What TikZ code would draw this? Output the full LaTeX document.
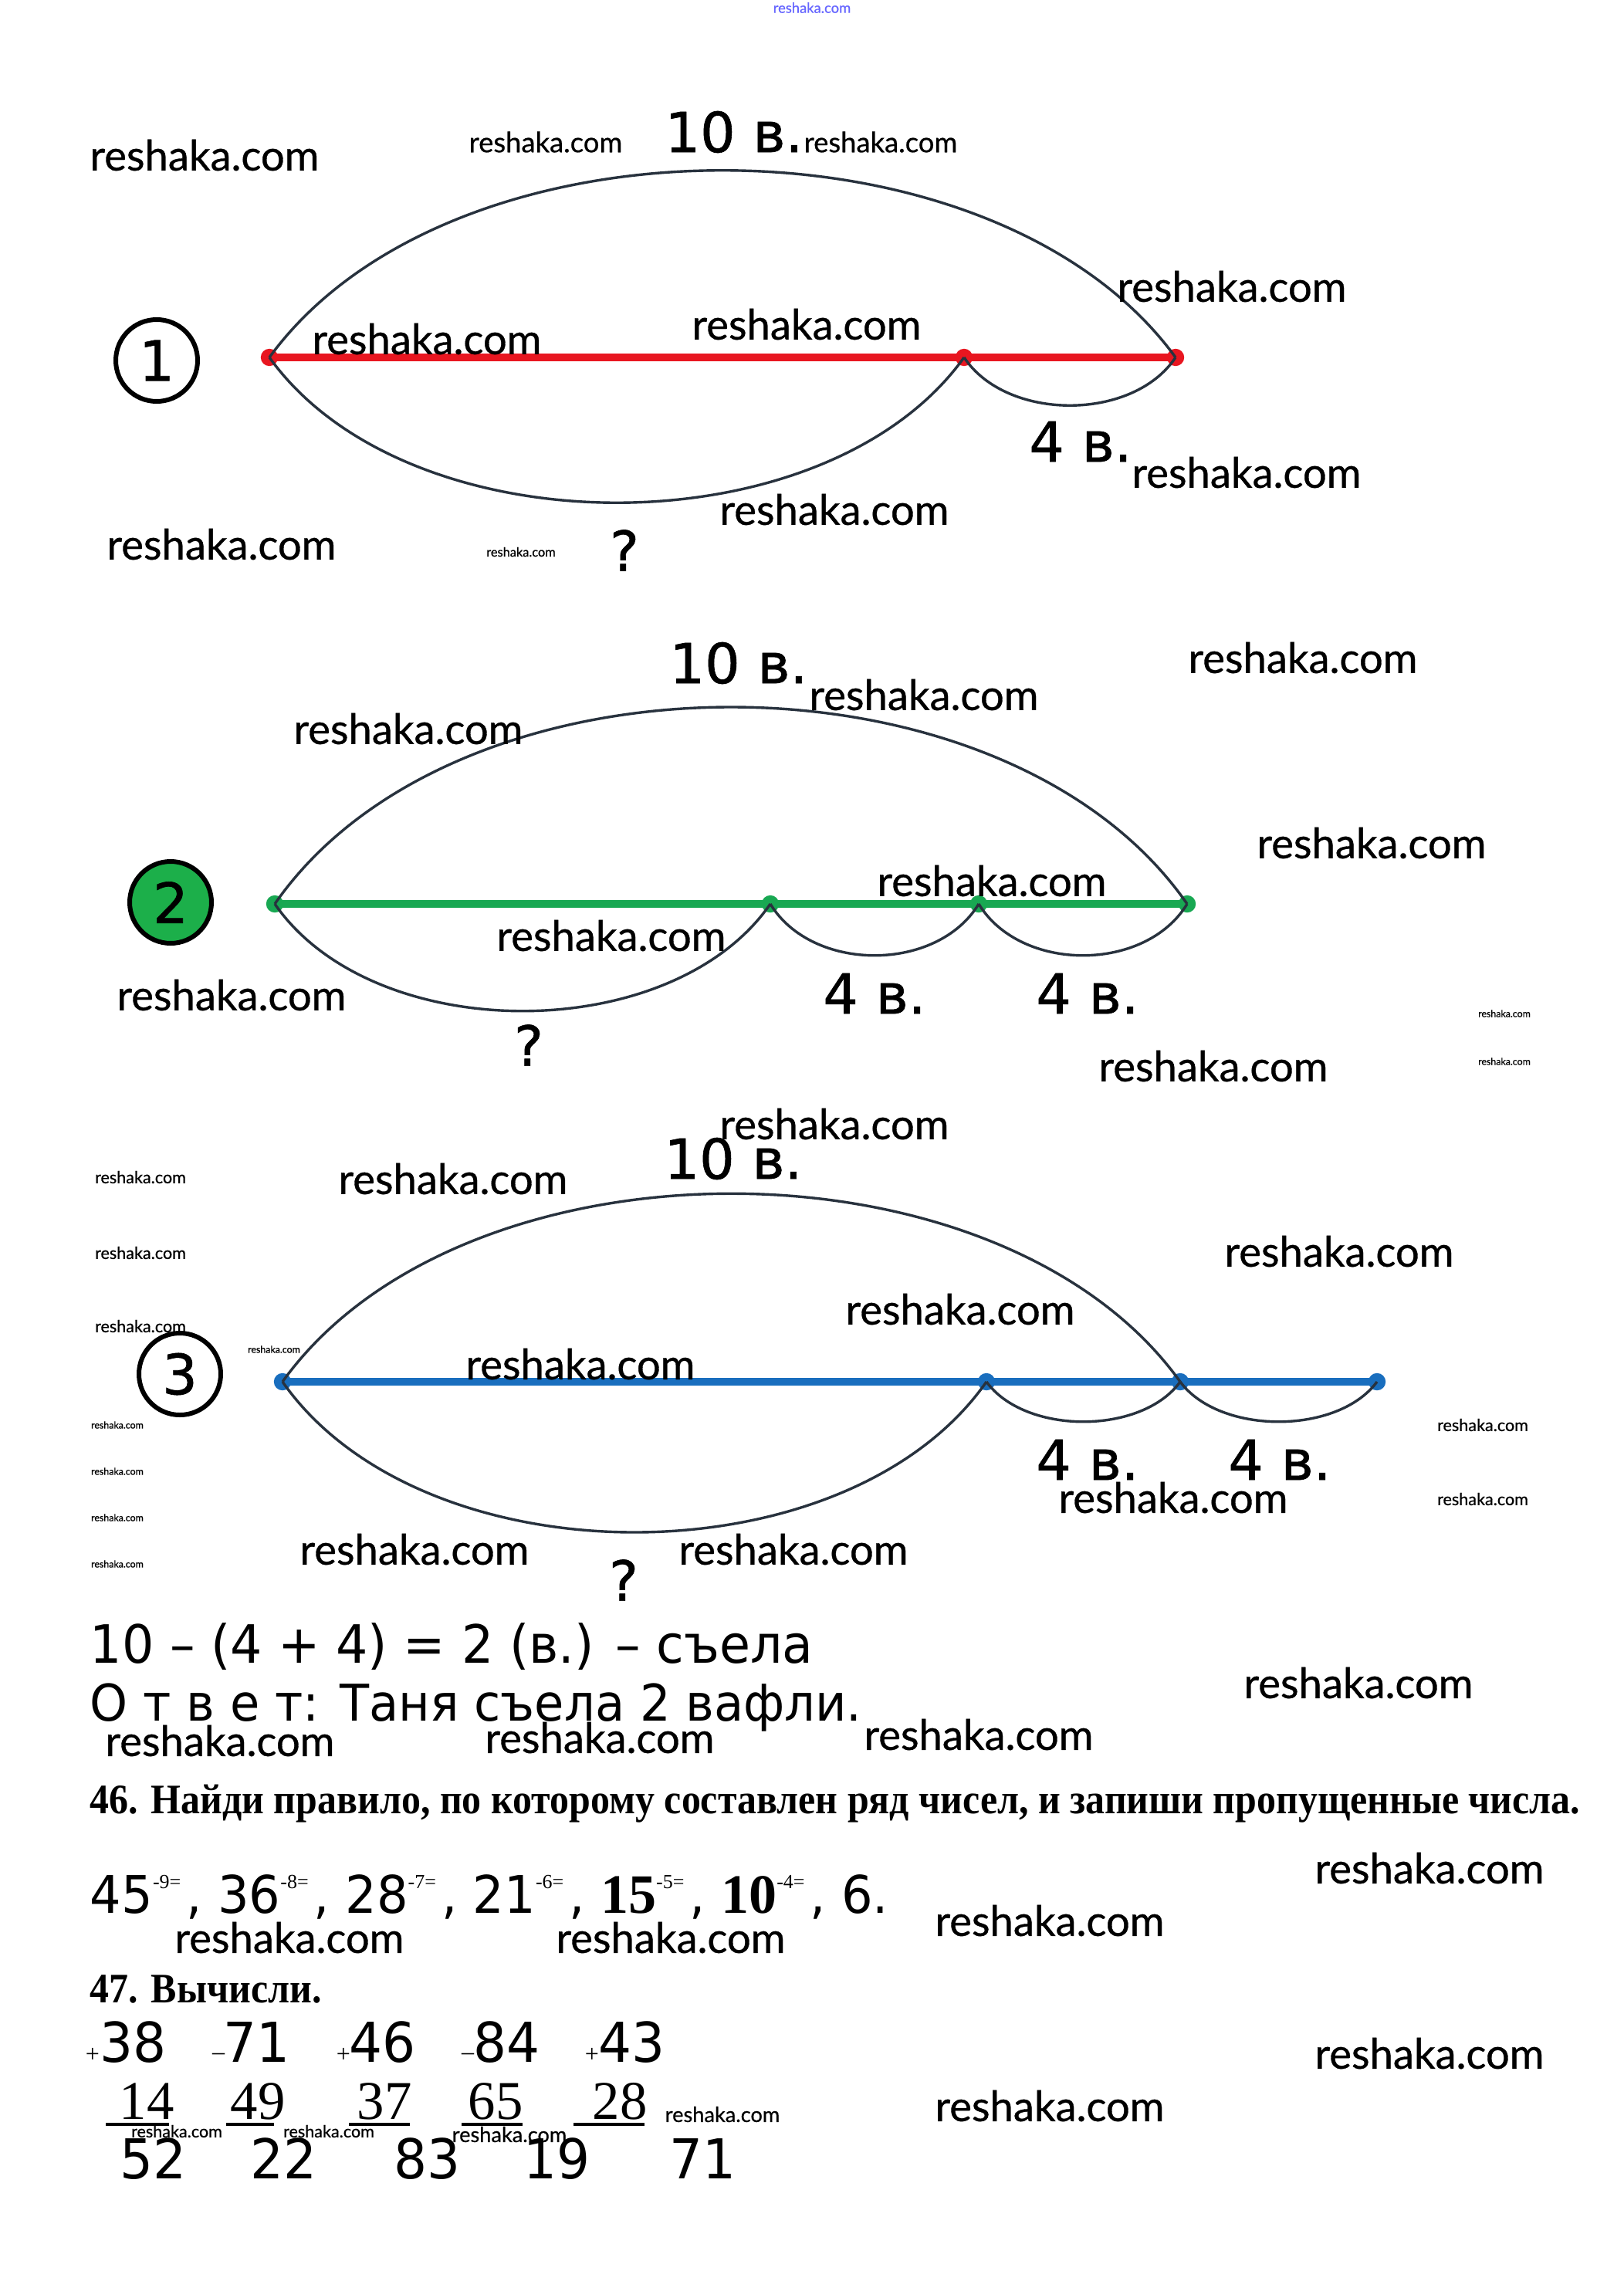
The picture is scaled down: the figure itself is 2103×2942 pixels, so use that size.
\documentclass[tikz,border=0pt]{standalone}
\usepackage{fontspec}
\setmainfont{Liberation Serif}
\newfontfamily\wmfont[FakeBold=0.6]{Lato}
\newfontfamily\vfont[FakeBold=0.9]{DejaVu Sans}
\newfontfamily\tfont[FakeStretch=0.95]{DejaVu Sans}
\newfontfamily\sfont{Liberation Serif}
\newfontfamily\hfont[FakeStretch=0.918]{Liberation Serif}
\newcommand\supr[1]{\raisebox{8pt}{\sfont\fontsize{6.5pt}{6.5pt}\selectfont #1}\kern1.8pt}
\definecolor{lred}{RGB}{232,22,32}
\definecolor{lgreen}{RGB}{24,168,82}
\definecolor{lblue}{RGB}{25,110,190}
\definecolor{arcc}{RGB}{40,50,62}
\definecolor{cgreen}{RGB}{28,175,74}
\tikzset{
  wmL/.style={inner sep=0, font={\wmfont\fontsize{13.6pt}{14pt}\selectfont}},
  wmM/.style={inner sep=0, font={\wmfont\fontsize{9.1pt}{10pt}\selectfont}},
  wmSS/.style={inner sep=0, font={\wmfont\fontsize{6.8pt}{7pt}\selectfont}},
  wmS/.style={inner sep=0, font={\wmfont\fontsize{5.4pt}{6pt}\selectfont}},
  wmT/.style={inner sep=0, font={\wmfont\fontsize{4.1pt}{5pt}\selectfont}},
  wmTT/.style={inner sep=0, font={\wmfont\fontsize{3.1pt}{4pt}\selectfont}},
  lbl/.style={inner sep=0, font={\vfont\fontsize{17.9pt}{18pt}\selectfont}},
  numc/.style={circle, draw=black, line width=1.5pt, minimum size=26.5pt, inner sep=0, font={\vfont\fontsize{18pt}{18pt}\selectfont}},
  arcline/.style={draw=arcc, line width=0.85pt},
  segline/.style={line width=2.4pt},
  pdot/.style={circle, inner sep=0, minimum size=5.6pt},
  txt/.style={inner sep=0, anchor=base west},
  colnum/.style={inner sep=0, anchor=base, font={\tfont\fontsize{17.8pt}{18pt}\selectfont}},
  colser/.style={inner sep=0, anchor=base, font={\sfont\fontsize{17.7pt}{18pt}\selectfont}},
  colsign/.style={inner sep=0, font={\sfont\fontsize{8pt}{8pt}\selectfont}},
  uline/.style={line width=1pt}
}
\begin{document}
\begin{tikzpicture}[x=0.25pt,y=-0.25pt]
\useasboundingbox[fill=white] (0,0) rectangle (2103,2942);

% ---------- Diagram 1 ----------
\node[numc] (n1) at (203,467) {1};
\node[pdot, fill=lred] (a1) at (349,463) {};
\node[pdot, fill=lred] (b1) at (1249,463) {};
\node[pdot, fill=lred] (c1) at (1523,463) {};
\draw[segline, lred] (a1.center) -- (c1.center);
\draw[arcline] (a1.center) .. controls +(235,-323) and +(-235,-323) .. (c1.center);
\draw[arcline] (a1.center) .. controls +(180,251) and +(-180,251) .. (b1.center);
\draw[arcline] (b1.center) .. controls +(55,83) and +(-55,83) .. (c1.center);
\node[lbl] (t1) at (951,171) {10 в.};
\node[lbl] (f1) at (1400,572) {4 в.};
\node[lbl] (q1) at (809,713) {?};

% ---------- Diagram 2 ----------
\node[numc, fill=cgreen] (n2) at (221,1169) {2};
\node[pdot, fill=lgreen] (a2) at (356,1171) {};
\node[pdot, fill=lgreen] (b2) at (998,1171) {};
\node[pdot, fill=lgreen] (m2) at (1268,1171) {};
\node[pdot, fill=lgreen] (c2) at (1538,1171) {};
\draw[segline, lgreen] (a2.center) -- (c2.center);
\draw[arcline] (a2.center) .. controls +(236,-340) and +(-236,-340) .. (c2.center);
\draw[arcline] (a2.center) .. controls +(128,185) and +(-128,185) .. (b2.center);
\draw[arcline] (b2.center) .. controls +(54,89) and +(-54,89) .. (m2.center);
\draw[arcline] (m2.center) .. controls +(54,89) and +(-54,89) .. (c2.center);
\node[lbl] (t2) at (957,859) {10 в.};
\node[lbl] (f2a) at (1133,1287) {4 в.};
\node[lbl] (f2b) at (1409,1287) {4 в.};
\node[lbl] (q2) at (685,1354) {?};

% ---------- Diagram 3 ----------
\node[numc] (n3) at (233,1780) {3};
\node[pdot, fill=lblue] (a3) at (366,1790) {};
\node[pdot, fill=lblue] (b3) at (1278,1790) {};
\node[pdot, fill=lblue] (m3) at (1529,1790) {};
\node[pdot, fill=lblue] (c3) at (1784,1790) {};
\draw[segline, lblue] (a3.center) -- (c3.center);
\draw[arcline] (a3.center) .. controls +(233,-325) and +(-233,-325) .. (m3.center);
\draw[arcline] (a3.center) .. controls +(182,260) and +(-182,260) .. (b3.center);
\draw[arcline] (b3.center) .. controls +(50,69) and +(-50,69) .. (m3.center);
\draw[arcline] (m3.center) .. controls +(51,69) and +(-51,69) .. (c3.center);
\node[lbl] (t3) at (950,1501) {10 в.};
\node[lbl] (f3a) at (1409,1891) {4 в.};
\node[lbl] (f3b) at (1658,1891) {4 в.};
\node[lbl] (q3) at (808,2047) {?};

% ---------- Solution text ----------
\node[txt, font={\tfont\fontsize{17.1pt}{17pt}\selectfont}] (eqA) at (116,2154) {10 – (4 + 4) = 2 (в.) – съела};
\node[txt, font={\tfont\fontsize{16.4pt}{17pt}\selectfont}] (eqB) at (116,2229) {О т в е т: Таня съела 2 вафли.};
\node[txt, font={\hfont\bfseries\fontsize{13.6pt}{14pt}\selectfont}] (h46) at (116,2349) {46. Найди правило, по которому составлен ряд чисел, и запиши пропущенные числа.};
\node[txt, font={\tfont\fontsize{16.8pt}{17pt}\selectfont}] (row46) at (116,2478) {45\supr{-9=}, 36\supr{-8=}, 28\supr{-7=}, 21\supr{-6=}, {\sfont\bfseries\fontsize{18pt}{18pt}\selectfont 15}\supr{-5=}, {\sfont\bfseries\fontsize{18pt}{18pt}\selectfont 10}\supr{-4=}, 6.};
\node[txt, font={\hfont\bfseries\fontsize{13.6pt}{14pt}\selectfont}] (h47) at (116,2594) {47. Вычисли.};

% column sums
\node[colsign] (s1) at (120,2662) {+};
\node[colsign] (s2) at (283,2664) {–};
\node[colsign] (s3) at (445,2662) {+};
\node[colsign] (s4) at (606,2664) {–};
\node[colsign] (s5) at (767,2662) {+};
\node[colnum] (r1a) at (173,2671) {38};
\node[colnum] (r1b) at (333,2671) {71};
\node[colnum] (r1c) at (496,2671) {46};
\node[colnum] (r1d) at (657,2671) {84};
\node[colnum] (r1e) at (819,2671) {43};
\node[colser] (r2a) at (190,2745) {14};
\node[colser] (r2b) at (334,2745) {49};
\node[colser] (r2c) at (498,2745) {37};
\node[colser] (r2d) at (642,2745) {65};
\node[colser] (r2e) at (803,2745) {28};
\coordinate (u1a) at (137,2752); \coordinate (u1b) at (219,2752);
\coordinate (u2a) at (293,2752); \coordinate (u2b) at (355,2752);
\coordinate (u3a) at (452,2752); \coordinate (u3b) at (531,2752);
\coordinate (u4a) at (598,2752); \coordinate (u4b) at (677,2752);
\coordinate (u5a) at (743,2752); \coordinate (u5b) at (835,2752);
\draw[uline] (u1a) -- (u1b);
\draw[uline] (u2a) -- (u2b);
\draw[uline] (u3a) -- (u3b);
\draw[uline] (u4a) -- (u4b);
\draw[uline] (u5a) -- (u5b);
\node[colnum] (r3a) at (199,2822) {52};
\node[colnum] (r3b) at (368,2822) {22};
\node[colnum] (r3c) at (554,2822) {83};
\node[colnum] (r3d) at (722,2822) {19};
\node[colnum] (r3e) at (911,2822) {71};

% ---------- watermarks ----------
\node[inner sep=0, font={\wmfont\fontsize{4.6pt}{5pt}\selectfont}, text=blue!60] (w0) at (1052,10) {reshaka.com};
\node[wmL] (w1) at (265,201) {reshaka.com};
\node[wmM] (w2) at (707,184) {reshaka.com};
\node[wmM] (w3) at (1141,184) {reshaka.com};
\node[wmL] (w4) at (1596,371) {reshaka.com};
\node[wmL] (w5) at (553,439) {reshaka.com};
\node[wmL] (w6) at (1045,420) {reshaka.com};
\node[wmL] (w7) at (1615,612) {reshaka.com};
\node[wmL] (w8) at (1081,660) {reshaka.com};
\node[wmL] (w9) at (287,705) {reshaka.com};
\node[wmT] (w10) at (675,715) {reshaka.com};
\node[wmL] (w11) at (1688,852) {reshaka.com};
\node[wmL] (w12) at (1197,900) {reshaka.com};
\node[wmL] (w13) at (529,944) {reshaka.com};
\node[wmL] (w14) at (1777,1092) {reshaka.com};
\node[wmL] (w15) at (1285,1141) {reshaka.com};
\node[wmL] (w16) at (792,1212) {reshaka.com};
\node[wmL] (w17) at (300,1289) {reshaka.com};
\node[wmL] (w18) at (1572,1381) {reshaka.com};
\node[wmTT] (w19) at (1949,1313) {reshaka.com};
\node[wmTT] (w20) at (1949,1375) {reshaka.com};
\node[wmL] (w21) at (1081,1456) {reshaka.com};
\node[wmL] (w22) at (587,1527) {reshaka.com};
\node[wmS] (w23) at (182,1525) {reshaka.com};
\node[wmS] (w24) at (182,1623) {reshaka.com};
\node[wmS] (w25) at (182,1718) {reshaka.com};
\node[wmTT] (w26) at (355,1748) {reshaka.com};
\node[wmL] (w27) at (1735,1621) {reshaka.com};
\node[wmL] (w28) at (1244,1696) {reshaka.com};
\node[wmL] (w29) at (752,1767) {reshaka.com};
\node[wmTT] (w30) at (152,1846) {reshaka.com};
\node[wmTT] (w31) at (152,1906) {reshaka.com};
\node[wmTT] (w32) at (152,1966) {reshaka.com};
\node[wmTT] (w33) at (152,2026) {reshaka.com};
\node[wmS] (w34) at (1921,1846) {reshaka.com};
\node[wmS] (w35) at (1921,1942) {reshaka.com};
\node[wmL] (w36) at (1520,1940) {reshaka.com};
\node[wmL] (w37) at (537,2007) {reshaka.com};
\node[wmL] (w38) at (1028,2007) {reshaka.com};
\node[wmL] (w39) at (1760,2180) {reshaka.com};
\node[wmL] (w40) at (285,2255) {reshaka.com};
\node[wmL] (w41) at (777,2251) {reshaka.com};
\node[wmL] (w42) at (1268,2247) {reshaka.com};
\node[wmL] (w43) at (1852,2420) {reshaka.com};
\node[wmL] (w44) at (1360,2488) {reshaka.com};
\node[wmL] (w45) at (375,2510) {reshaka.com};
\node[wmL] (w46) at (869,2510) {reshaka.com};
\node[wmL] (w47) at (1852,2660) {reshaka.com};
\node[wmL] (w48) at (1360,2728) {reshaka.com};
\node[wmS] (w49) at (229,2761) {reshaka.com};
\node[wmS] (w50) at (426,2761) {reshaka.com};
\node[wmSS] (w51) at (660,2765) {reshaka.com};
\node[wmSS] (w52) at (936,2739) {reshaka.com};
\end{tikzpicture}
\end{document}
